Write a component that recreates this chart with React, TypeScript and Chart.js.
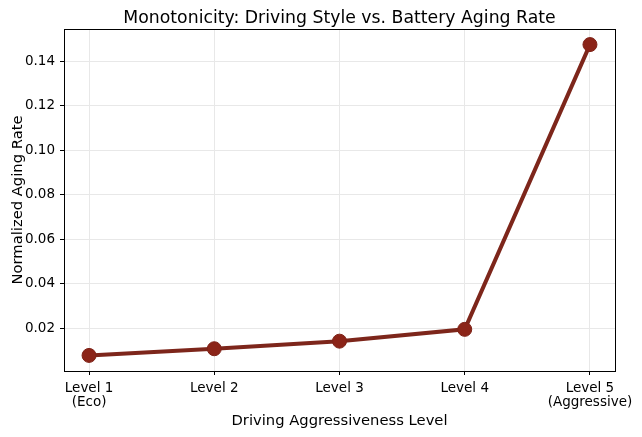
import React, { useEffect, useRef } from "react";
import { Chart, registerables } from "chart.js";

Chart.register(...registerables);

const categories: string[][] = [
  ["Level 1", "(Eco)"],
  ["Level 2"],
  ["Level 3"],
  ["Level 4"],
  ["Level 5", "(Aggressive)"],
];
const agingRate: number[] = [0.0079, 0.0109, 0.0143, 0.0196, 0.1475];
const yTicks: number[] = [0.02, 0.04, 0.06, 0.08, 0.1, 0.12, 0.14];
const titleText = "Monotonicity: Driving Style vs. Battery Aging Rate";

const FONT = "'DejaVu Sans', sans-serif";

const boxPlugin = {
  id: "boxPlugin",
  beforeDatasetsDraw(chart: any) {
    const { ctx, chartArea } = chart;
    ctx.save();
    ctx.strokeStyle = "#000";
    ctx.lineWidth = 1;
    ctx.strokeRect(
      Math.round(chartArea.left) + 0.5,
      Math.round(chartArea.top) + 0.5,
      Math.round(chartArea.right - chartArea.left),
      Math.round(chartArea.bottom - chartArea.top)
    );
    ctx.restore();
  },
  afterDraw(chart: any) {
    const { ctx, chartArea } = chart;
    ctx.save();
    ctx.fillStyle = "#000";
    ctx.font = `17.3px ${FONT}`;
    ctx.textAlign = "center";
    ctx.textBaseline = "alphabetic";
    ctx.fillText(titleText, (chartArea.left + chartArea.right) / 2, 22.5);
    ctx.restore();
  },
};

export default function App() {
  const ref = useRef<HTMLCanvasElement | null>(null);

  useEffect(() => {
    document.body.style.margin = "0";
    if (!ref.current) return;
    const chart = new Chart(ref.current, {
      type: "line",
      data: {
        datasets: [
          {
            data: agingRate.map((v, i) => ({ x: i, y: v })),
            borderColor: "#7D261B",
            borderWidth: 4,
            pointRadius: 7,
            pointHoverRadius: 7,
            pointBackgroundColor: "#8B2418",
            pointBorderColor: "#7E2217",
            pointBorderWidth: 1,
            tension: 0,
          },
        ],
      },
      plugins: [boxPlugin],
      options: {
        animation: false,
        responsive: false,
        events: [],
        layout: { padding: { left: 0, right: 27, top: 29, bottom: 0 } },
        plugins: {
          legend: { display: false },
          tooltip: { enabled: false },
          title: { display: false },
        },
        scales: {
          x: {
            type: "linear",
            min: -0.2,
            max: 4.2,
            afterBuildTicks: (s: any) => {
              s.ticks = categories.map((_, i) => ({ value: i }));
            },
            afterFit: (s: any) => {
              s.height = 66;
            },
            ticks: {
              color: "#000",
              padding: 6,
              maxRotation: 0,
              autoSkip: false,
              font: { family: FONT, size: 13.5, lineHeight: 1.08 },
              callback: (v: any) => categories[Math.round(Number(v))] ?? "",
            },
            grid: {
              color: "#e8e8e8",
              lineWidth: 1,
              tickColor: "#000",
              tickLength: 4,
              drawTicks: true,
            },
            border: { display: false },
            title: {
              display: true,
              text: "Driving Aggressiveness Level",
              color: "#000",
              font: { family: FONT, size: 14.75, lineHeight: 1.2 },
              padding: { top: 2, bottom: 7 },
            },
          },
          y: {
            type: "linear",
            min: 0.0009,
            max: 0.1545,
            afterBuildTicks: (s: any) => {
              s.ticks = yTicks.map((v) => ({ value: v }));
            },
            afterFit: (s: any) => {
              s.width = 64;
            },
            ticks: {
              color: "#000",
              padding: 5,
              font: { family: FONT, size: 13.5 },
              callback: (v: any) => Number(v).toFixed(2),
            },
            grid: {
              color: "#e8e8e8",
              lineWidth: 1,
              tickColor: "#000",
              tickLength: 4,
            },
            border: { display: false },
            title: {
              display: true,
              text: "Normalized Aging Rate",
              color: "#000",
              font: { family: FONT, size: 14.75, lineHeight: 1.2 },
              padding: { top: 9, bottom: 0 },
            },
          },
        },
      },
    } as any);
    return () => chart.destroy();
  }, []);

  return (
    <div style={{ width: 642, height: 437 }}>
      <canvas ref={ref} width={642} height={437} />
    </div>
  );
}
